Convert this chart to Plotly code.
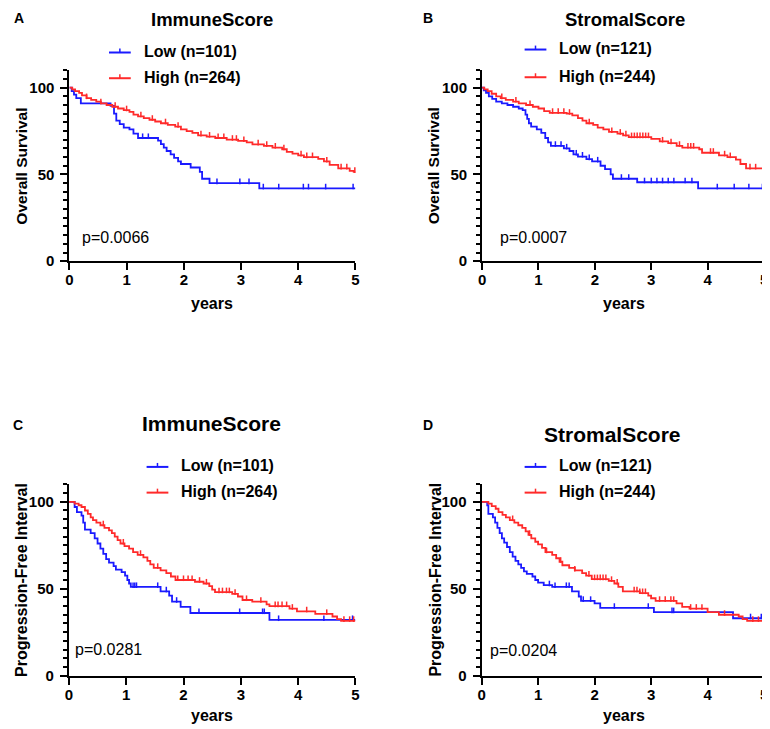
import numpy as np
import plotly.graph_objects as go

W, H = 770, 729
FONT = "Arial, Liberation Sans, sans-serif"
BLUE = "#1a1aff"
RED = "#ff2a2a"
END_T = 5.0

# ---------------- data ----------------
# Panel A: Overall survival, ImmuneScore
a_low_t = [0, 0.04, 0.08, 0.12, 0.2, 0.72, 0.78, 0.82, 0.88, 0.95, 1.05, 1.12, 1.2, 1.55, 1.6, 1.65, 1.7,
           1.77, 1.83, 1.9, 1.95, 2.12, 2.28, 2.32, 2.45, 3.32]
a_low_s = [100, 98, 96, 94, 91, 89.5, 85, 81, 79, 77, 76, 73.5, 71, 69.5, 67.5, 65.5, 63.5,
           61.5, 59.5, 57.5, 56, 54, 51.5, 47.5, 45, 42]
a_low_c = [1.28, 1.38, 2.58, 2.98, 3.14, 3.39, 3.66, 4.09, 4.18, 4.48, 4.96]
a_high_t = [0, 0.05, 0.1, 0.17, 0.22, 0.3, 0.38, 0.47, 0.55, 0.65, 0.75, 0.85, 0.95, 1.05, 1.12, 1.2, 1.3,
            1.4, 1.5, 1.6, 1.72, 1.85, 1.95, 2.05, 2.15, 2.25, 2.4, 2.55, 2.75, 2.95, 3.1, 3.2, 3.4, 3.55,
            3.72, 3.8, 3.9, 4.0, 4.1, 4.35, 4.45, 4.55, 4.7, 4.9, 4.97]
a_high_s = [100, 99, 98, 97, 95.5, 94, 93, 92, 91, 90, 89, 88, 87, 86, 84.5, 83.5, 82.5,
            81.5, 80.5, 79.5, 78.5, 77.5, 76, 75, 74, 72.5, 71.8, 71, 70, 69.3, 68.5, 67.3, 66.5, 65.5,
            64.5, 63, 62, 61, 60, 59, 57.5, 55.5, 53.5, 52, 51.5]
a_high_c = [0.3, 0.55, 0.8, 1.0, 1.25, 1.45, 1.68, 1.9, 2.3, 2.45, 2.6, 2.7, 2.85, 2.92, 3.05, 3.3, 3.45,
            3.6, 3.75, 4.05, 4.15, 4.25, 4.5, 4.75, 4.85, 4.99]

# Panel B: Overall survival, StromalScore
b_low_t = [0, 0.03, 0.07, 0.12, 0.18, 0.25, 0.35, 0.45, 0.55, 0.65, 0.72, 0.77, 0.8, 0.83, 0.87, 0.97, 1.05,
           1.12, 1.17, 1.22, 1.45, 1.55, 1.62, 1.7, 1.85, 1.95, 2.1, 2.18, 2.28, 2.32, 2.75, 3.83]
b_low_s = [100, 98.5, 97, 95, 93.5, 92, 91, 90, 89, 88, 87, 84.5, 82, 79.5, 77.5, 76, 74,
           71, 68.5, 66.5, 65, 63.5, 61.5, 60.3, 58.8, 57.5, 55, 53, 50, 47.5, 45.5, 42]
b_low_c = [1.3, 1.4, 1.5, 1.67, 1.78, 1.9, 2.05, 2.47, 2.6, 2.88, 3.0, 3.1, 3.2, 3.3, 3.4, 3.6, 3.72,
           4.17, 4.47, 4.73, 4.97]
b_high_t = [0, 0.04, 0.1, 0.17, 0.25, 0.33, 0.42, 0.55, 0.65, 0.78, 0.9, 1.0, 1.1, 1.2, 1.5, 1.6, 1.7, 1.78,
            1.85, 1.97, 2.05, 2.15, 2.25, 2.4, 2.5, 2.6, 3.0, 3.15, 3.3, 3.45, 3.55, 3.85, 3.9, 4.2, 4.35,
            4.5, 4.58, 4.68, 4.98]
b_high_s = [100, 99, 98, 96.5, 95, 94, 93, 92, 91, 90, 89, 88, 86.5, 85.5, 85, 84, 82.5, 81,
            79.5, 78.5, 77, 76, 74.5, 73.5, 72.5, 71.5, 70.5, 69, 68, 66.5, 65.5, 64.5, 62.5, 61, 60,
            58.5, 56, 53.5, 52.5]
b_high_c = [0.35, 0.6, 0.85, 1.25, 1.35, 1.45, 1.55, 1.9, 2.3, 2.45, 2.55, 2.65, 2.7, 2.75, 2.8, 2.85, 2.9,
            2.95, 3.2, 3.35, 3.5, 3.65, 3.7, 3.75, 4.05, 4.1, 4.3, 4.4, 4.75, 4.85, 4.99]

# Panel C: Progression-free interval, ImmuneScore
c_low_t = [0, 0.1, 0.14, 0.22, 0.25, 0.28, 0.38, 0.45, 0.5, 0.55, 0.6, 0.65, 0.7, 0.78, 0.82, 0.92, 0.98,
           1.02, 1.05, 1.08, 1.6, 1.75, 1.8, 1.95, 2.12, 3.5]
c_low_s = [100, 97, 94, 92, 88, 84, 82, 79, 76, 73, 70, 67, 65, 63, 61, 59.5, 57.5,
           55, 53, 51, 48.5, 46, 42.5, 39.5, 36, 32]
c_low_c = [1.12, 1.15, 1.18, 1.55, 1.7, 1.88, 2.27, 2.98, 3.38, 3.41, 3.66, 4.45, 4.95]
c_high_t = [0, 0.1, 0.17, 0.22, 0.28, 0.33, 0.38, 0.42, 0.48, 0.55, 0.62, 0.7, 0.75, 0.8, 0.85, 0.9, 0.97,
            1.05, 1.12, 1.2, 1.3, 1.37, 1.42, 1.48, 1.6, 1.7, 1.78, 1.86, 2.2, 2.35, 2.45, 2.5, 2.55, 2.85,
            2.95, 3.03, 3.2, 3.45, 3.5, 3.85, 3.98, 4.3, 4.6, 4.68, 4.75]
c_high_s = [100, 99, 98, 97, 95, 93, 91, 89.5, 88, 86.5, 85, 83.5, 82, 80, 78, 76, 74.5,
            73, 71, 69.5, 68, 66, 64, 62, 60.5, 59, 57, 55, 54, 53, 51.5, 49.5, 48, 47,
            45.5, 43.5, 42.5, 41, 40, 38.5, 37, 35.5, 34, 32.5, 31.5]
c_high_c = [0.6, 0.95, 1.25, 1.55, 1.9, 2.0, 2.08, 2.15, 2.28, 2.4, 2.62, 2.68, 2.75, 2.8, 2.9, 3.1, 3.35,
            3.6, 3.65, 3.72, 3.8, 3.9, 4.15, 4.5, 4.8, 4.9, 4.97]

# Panel D: Progression-free interval, StromalScore
d_low_t = [0, 0.1, 0.12, 0.2, 0.24, 0.28, 0.32, 0.36, 0.4, 0.45, 0.5, 0.55, 0.6, 0.65, 0.7, 0.75, 0.8,
           0.9, 0.95, 1.0, 1.1, 1.25, 1.6, 1.72, 1.76, 2.0, 2.1, 3.05, 4.45]
d_low_s = [100, 98, 93, 91, 88, 85, 82, 79, 76.5, 74, 71, 68.5, 66, 64, 62, 60, 58.5,
           57, 55, 53.5, 52, 51, 48.5, 45.5, 43, 41.5, 39, 36.5, 33]
d_low_c = [1.2, 1.3, 1.5, 1.55, 1.8, 1.93, 2.35, 2.95, 3.37, 3.4, 4.76, 4.95]
d_high_t = [0, 0.12, 0.18, 0.25, 0.3, 0.37, 0.43, 0.5, 0.58, 0.65, 0.72, 0.78, 0.83, 0.88, 0.95, 1.0, 1.07,
            1.13, 1.25, 1.32, 1.38, 1.43, 1.55, 1.65, 1.78, 1.85, 1.95, 2.25, 2.35, 2.42, 2.5, 2.8, 2.95,
            3.0, 3.08, 3.45, 3.55, 3.68, 4.0, 4.2, 4.55, 4.62, 4.7]
d_high_s = [100, 99, 97.5, 96, 94, 92.5, 91, 89.5, 88, 86.5, 85, 83, 81, 79, 77, 75.5, 73.5,
            71, 69.5, 67.5, 65.5, 63.5, 62, 60.5, 59, 57.5, 55.5, 54.5, 53, 51, 48.5, 47.5, 46,
            44.5, 43, 41.5, 39.5, 38.5, 36.5, 35, 34, 32.5, 31.5]
d_high_c = [0.55, 0.85, 1.15, 1.4, 1.65, 1.9, 2.0, 2.05, 2.1, 2.15, 2.2, 2.3, 2.4, 2.7, 2.75, 2.8, 2.85,
            2.9, 3.15, 3.25, 3.35, 3.4, 3.7, 3.8, 3.9, 4.3, 4.8, 4.9, 4.98]

panel_letters = ["A", "B", "C", "D"]
panel_titles = ["ImmuneScore", "StromalScore", "ImmuneScore", "StromalScore"]
y_titles = ["Overall Survival", "Overall Survival", "Progression-Free Interval", "Progression-Free Interval"]
low_labels = ["Low (n=101)", "Low (n=121)", "Low (n=101)", "Low (n=121)"]
high_labels = ["High (n=264)", "High (n=244)", "High (n=264)", "High (n=244)"]
p_values = ["p=0.0066", "p=0.0007", "p=0.0281", "p=0.0204"]
y_ticks = [0, 50, 100]
x_ticks = [0, 1, 2, 3, 4, 5]

series = [
    ((a_low_t, a_low_s, a_low_c), (a_high_t, a_high_s, a_high_c)),
    ((b_low_t, b_low_s, b_low_c), (b_high_t, b_high_s, b_high_c)),
    ((c_low_t, c_low_s, c_low_c), (c_high_t, c_high_s, c_high_c)),
    ((d_low_t, d_low_s, d_low_c), (d_high_t, d_high_s, d_high_c)),
]

# ---------------- layout geometry (pixels) ----------------
# (x_left, x_right, y_top(of 110), y_bottom(of 0))
boxes = [(58, 347, 63, 256), (475, 760, 63, 256), (57.5, 347, 481.7, 675), (474.5, 760, 481.7, 675)]
letter_pos = [(7, 10), (420, 10), (6, 422), (420, 422)]
title_pos = [(202, 12, 18.5), (619, 12, 18.5), (202, 420, 21), (607, 431, 21)]
ytitle_x = [10, 426, 9, 427]
legend_pos = [(98, 45, 71), (518, 42, 70), (136, 464, 490), (518, 464, 490)]
pval_pos = [(70, 232), (492, 232), (63, 649), (482, 650)]
xtitle_pos = [(202, 299), (618, 299), (202, 715), (618, 715)]


def px(x):
    return x / W


def py(y):
    return 1 - y / H


fig = go.Figure()
annotations = []
shapes = []


def step_value(t_arr, s_arr, t):
    idx = np.searchsorted(np.asarray(t_arr), t, side="right") - 1
    return np.asarray(s_arr)[idx]


def text_ann(x, y, text, size, xanchor="center", angle=0):
    return dict(x=px(x), y=py(y), xref="paper", yref="paper", text=text, showarrow=False,
                xanchor=xanchor, yanchor="middle", textangle=angle, borderpad=0,
                font=dict(family=FONT, size=size, color="black"))


for i in range(4):
    k = "" if i == 0 else str(i + 1)
    xa, ya = "x" + k, "y" + k
    xl, xr, yt, yb = boxes[i]
    for (t, s, c), col in zip(series[i], [BLUE, RED]):
        tt = list(t) + [END_T]
        ss = list(s) + [s[-1]]
        fig.add_trace(go.Scatter(x=tt, y=ss, mode="lines", line=dict(color=col, width=1.8, shape="hv"),
                                 xaxis=xa, yaxis=ya, showlegend=False, cliponaxis=False, hoverinfo="skip"))
        cy = step_value(t, s, np.asarray(c))
        fig.add_trace(go.Scatter(x=c, y=cy + 1.0, mode="markers",
                                 marker=dict(symbol="line-ns", size=4, line=dict(color=col, width=1.5)),
                                 xaxis=xa, yaxis=ya, showlegend=False, cliponaxis=False, hoverinfo="skip"))
    axis_common = dict(showline=True, linecolor="black", linewidth=2, ticks="outside", tickcolor="black",
                       tickwidth=2, ticklen=7, showgrid=False, zeroline=False, ticklabeloverflow="allow",
                       tickfont=dict(family=FONT, size=15, color="black", weight="bold"))
    fig.layout["xaxis" + k] = dict(domain=[px(xl), px(xr)], range=[0, 5], tickvals=x_ticks,
                                   anchor=ya, ticklabelstandoff=-3, **axis_common)
    fig.layout["yaxis" + k] = dict(domain=[py(yb), py(yt)], range=[0, 110], tickvals=y_ticks,
                                   anchor=xa, ticklabelstandoff=3,
                                   minor=dict(dtick=5, ticks="outside", ticklen=4, tickwidth=1.5,
                                              tickcolor="black", showgrid=False),
                                   **axis_common)
    # texts
    lx, ly = letter_pos[i]
    annotations.append(text_ann(lx, ly, "<b>%s</b>" % panel_letters[i], 14))
    tx, ty, ts = title_pos[i]
    annotations.append(text_ann(tx, ty, "<b>%s</b>" % panel_titles[i], ts))
    annotations.append(text_ann(ytitle_x[i], (yt + yb) / 2, "<b>%s</b>" % y_titles[i],
                                16 if i >= 2 else 15.5, angle=-90))
    xx, xy = xtitle_pos[i]
    annotations.append(text_ann(xx, xy, "<b>years</b>", 16))
    pxp, pyp = pval_pos[i]
    annotations.append(text_ann(pxp, pyp, p_values[i], 16, xanchor="left"))
    # legend
    gx, gy1, gy2 = legend_pos[i]
    for gy, col, lab in [(gy1, BLUE, low_labels[i]), (gy2, RED, high_labels[i])]:
        shapes.append(dict(type="line", xref="paper", yref="paper", x0=px(gx), x1=px(gx + 22),
                           y0=py(gy), y1=py(gy), line=dict(color=col, width=2)))
        shapes.append(dict(type="line", xref="paper", yref="paper", x0=px(gx + 11), x1=px(gx + 11),
                           y0=py(gy), y1=py(gy - 4), line=dict(color=col, width=1.5)))
        annotations.append(text_ann(gx + 34, gy - 1, "<b>%s</b>" % lab, 16, xanchor="left"))

fig.update_layout(width=W, height=H, margin=dict(l=0, r=0, t=0, b=0), plot_bgcolor="white",
                  paper_bgcolor="white", annotations=annotations, shapes=shapes, showlegend=False)
fig.write_html("out.html")
